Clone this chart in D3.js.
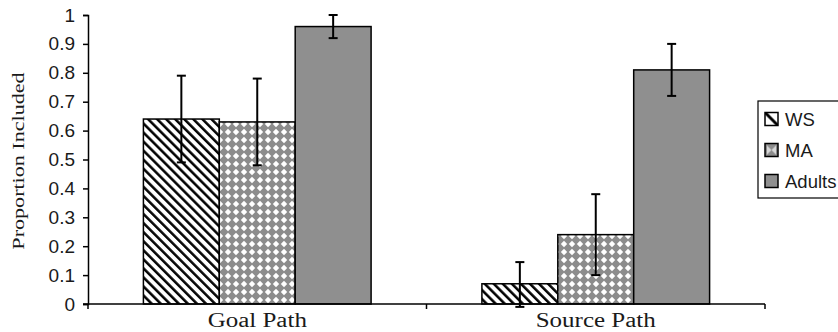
<!DOCTYPE html>
<html><head><meta charset="utf-8">
<script src="https://cdn.jsdelivr.net/npm/d3@7"></script>
<style>html,body{margin:0;padding:0;background:#fff;}svg{display:block;}</style>
</head><body>
<svg id="chart" width="838" height="332"></svg>
<script>
const categories = ["Goal Path", "Source Path"];
const seriesNames = ["WS", "MA", "Adults"];
const meanWS = [0.64, 0.07];
const meanMA = [0.63, 0.24];
const meanAdults = [0.96, 0.81];
const errLowWS = [0.49, -0.01];
const errHighWS = [0.79, 0.145];
const errLowMA = [0.48, 0.10];
const errHighMA = [0.78, 0.38];
const errLowAdults = [0.92, 0.72];
const errHighAdults = [1.0, 0.90];
const yTicks = [0, 0.1, 0.2, 0.3, 0.4, 0.5, 0.6, 0.7, 0.8, 0.9, 1];
const yTickLabels = ["0", "0.1", "0.2", "0.3", "0.4", "0.5", "0.6", "0.7", "0.8", "0.9", "1"];

const means = [meanWS, meanMA, meanAdults];
const lows = [errLowWS, errLowMA, errLowAdults];
const highs = [errHighWS, errHighMA, errHighAdults];
const data = [];
categories.forEach((c, ci) => seriesNames.forEach((s, si) => data.push({cat: c, ser: s, v: means[si][ci], lo: lows[si][ci], hi: highs[si][ci]})));

const svg = d3.select("#chart");
const defs = svg.append("defs");
// WS stripes
const pWS = defs.append("pattern").attr("id", "pWS").attr("patternUnits", "userSpaceOnUse")
  .attr("width", 6.4).attr("height", 10).attr("patternTransform", "rotate(-45)");
pWS.append("rect").attr("width", 6.4).attr("height", 10).attr("fill", "#fff");
pWS.append("line").attr("x1", 1.3).attr("x2", 1.3).attr("y1", 0).attr("y2", 10).attr("stroke", "#000").attr("stroke-width", 2.5);
// MA diamonds
const pMA = defs.append("pattern").attr("id", "pMA").attr("patternUnits", "userSpaceOnUse")
  .attr("width", 8).attr("height", 8);
pMA.append("rect").attr("width", 8).attr("height", 8).attr("fill", "#8c8c8c");
pMA.append("path").attr("d", "M4,0.8 L7.2,4 L4,7.2 L0.8,4 Z").attr("fill", "#fff");
const fills = {WS: "url(#pWS)", MA: "url(#pMA)", Adults: "#8f8f8f"};
// legend WS swatch pattern
const pWSl = defs.append("pattern").attr("id", "pWSl").attr("patternUnits", "objectBoundingBox").attr("width", 1).attr("height", 1);
pWSl.append("rect").attr("width", 13).attr("height", 13).attr("fill", "#fff");
pWSl.append("line").attr("x1", 0).attr("y1", 0).attr("x2", 13).attr("y2", 13).attr("stroke", "#000").attr("stroke-width", 3);
const pMAl = defs.append("pattern").attr("id", "pMAl").attr("patternUnits", "objectBoundingBox").attr("width", 1).attr("height", 1);
pMAl.append("rect").attr("width", 13).attr("height", 13).attr("fill", "#8c8c8c");
pMAl.append("path").attr("d", "M2,2 L6.5,6.5 L11,2 L11,11 L6.5,6.5 L2,11 Z").attr("fill", "#d8d8d8");

const x0 = d3.scaleBand().domain(categories).range([88, 765]).padding(0);
const x1 = d3.scaleBand().domain(seriesNames).range([0, x0.bandwidth()]).paddingInner(0).paddingOuter(0.73);
const y = d3.scaleLinear().domain([0, 1]).range([304, 15]);

// bars
svg.append("g").selectAll("rect").data(data).join("rect")
  .attr("x", d => x0(d.cat) + x1(d.ser))
  .attr("y", d => y(d.v))
  .attr("width", x1.bandwidth())
  .attr("height", d => y(0) - y(d.v))
  .attr("fill", d => fills[d.ser])
  .attr("stroke", "#000").attr("stroke-width", 1.5);

// error bars
const eg = svg.append("g").attr("stroke", "#000").attr("stroke-width", 2);
data.forEach(d => {
  const cx = x0(d.cat) + x1(d.ser) + x1.bandwidth() / 2;
  eg.append("line").attr("x1", cx).attr("x2", cx).attr("y1", y(d.hi)).attr("y2", y(d.lo));
  eg.append("line").attr("x1", cx - 4.5).attr("x2", cx + 4.5).attr("y1", y(d.hi)).attr("y2", y(d.hi));
  eg.append("line").attr("x1", cx - 4.5).attr("x2", cx + 4.5).attr("y1", y(d.lo)).attr("y2", y(d.lo));
});

// y axis
const yAxis = d3.axisLeft(y).tickValues(yTicks).tickFormat((d, i) => yTickLabels[i]).tickSizeOuter(0).tickSize(5).tickPadding(8);
const yg = svg.append("g").attr("transform", "translate(88,0)").call(yAxis);
yg.select(".domain").attr("stroke-width", 1.5);
yg.selectAll(".tick line").attr("stroke-width", 1.5);
yg.selectAll(".tick text").attr("font-family", "Liberation Sans, Arial, sans-serif").attr("font-size", 19).attr("fill", "#1a1a1a");

// x axis
const xg = svg.append("g").attr("transform", "translate(0,304)");
xg.append("line").attr("x1", 83).attr("x2", 765).attr("stroke", "#000").attr("stroke-width", 1.5);
const xTickPos = [x0.range()[0], x0(categories[1]), x0.range()[1]];
xTickPos.forEach(p => xg.append("line").attr("x1", p).attr("x2", p).attr("y1", 0).attr("y2", 5).attr("stroke", "#000").attr("stroke-width", 1.5));
categories.forEach(c => xg.append("text")
  .attr("transform", `translate(${x0(c) + x0.bandwidth() / 2},23) scale(1.25,1)`)
  .attr("text-anchor", "middle").attr("font-family", "Liberation Serif, Times New Roman, serif").attr("font-size", 20).attr("fill", "#1a1a1a").text(c));

// y title
svg.append("text").attr("transform", "translate(24,161) rotate(-90) scale(1.3,1)").attr("text-anchor", "middle")
  .attr("font-family", "Liberation Serif, Times New Roman, serif").attr("font-size", 17).attr("fill", "#1a1a1a").text("Proportion Included");

// legend
const lg = svg.append("g");
lg.append("rect").attr("x", 758).attr("y", 101).attr("width", 90).attr("height", 97).attr("fill", "#fff").attr("stroke", "#000").attr("stroke-width", 1.2);
const swFill = {WS: "url(#pWSl)", MA: "url(#pMAl)", Adults: "#8f8f8f"};
seriesNames.forEach((s, i) => {
  const yy = 119 + i * 31;
  lg.append("rect").attr("x", 765).attr("y", yy - 6.5).attr("width", 13).attr("height", 13).attr("fill", swFill[s]).attr("stroke", "#000").attr("stroke-width", 1.5);
  lg.append("text").attr("x", 785).attr("y", yy + 7).attr("font-family", "Liberation Sans, Arial, sans-serif").attr("font-size", 18.5).attr("fill", "#1a1a1a").text(s);
});
</script>
</body></html>
